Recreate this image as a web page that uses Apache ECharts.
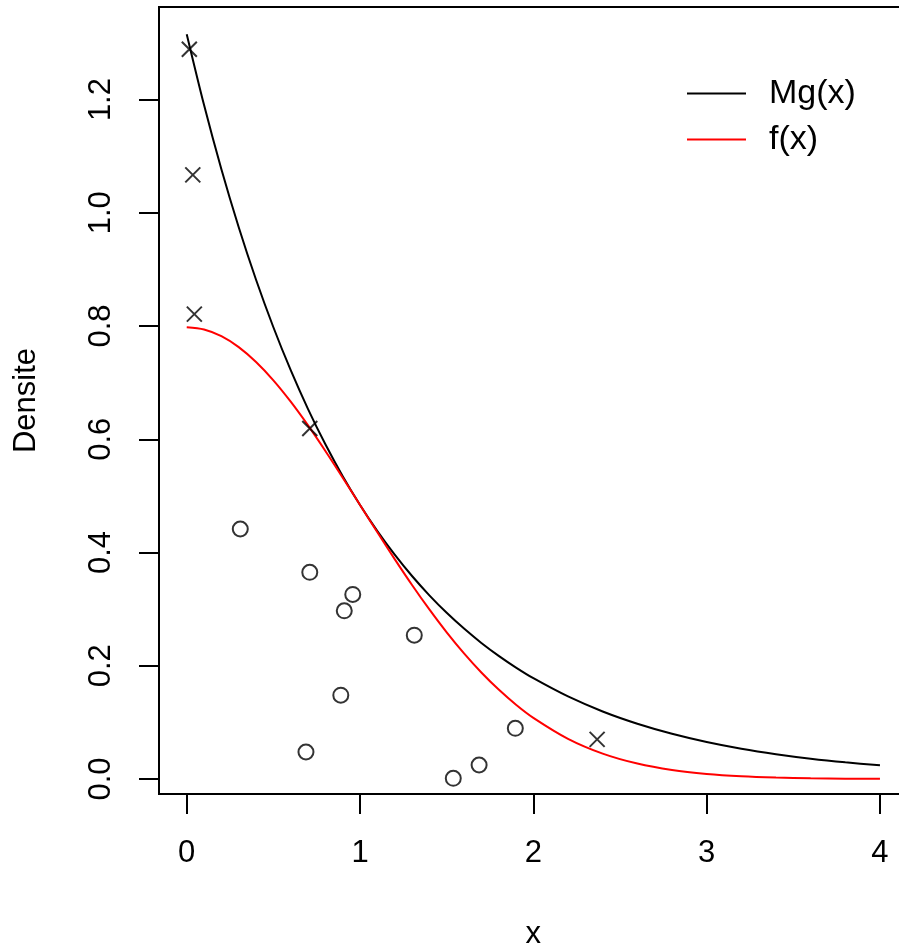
<!DOCTYPE html>
<html>
<head>
<meta charset="utf-8">
<script src="https://cdn.jsdelivr.net/npm/echarts@6/dist/echarts.min.js"></script>
<style>html,body{margin:0;padding:0;background:#fff}#c{width:899px;height:946px}</style>
</head>
<body>
<div id="c"></div>
<script>
// curve sample positions and values
const curveX = [0,0.1,0.2,0.3,0.4,0.5,0.6,0.7,0.8,0.9,1.0,1.1,1.2,1.3,1.4,1.5,1.6,1.7,1.8,1.9,2.0,2.2,2.4,2.6,2.8,3.0,3.2,3.4,3.6,3.8,4.0];
const mgY = [1.3155,1.1903,1.0770,0.9746,0.8818,0.7979,0.7220,0.6533,0.5911,0.5348,0.4839,0.4379,0.3962,0.3585,0.3244,0.2935,0.2656,0.2403,0.2175,0.1968,0.1780,0.1458,0.1193,0.0977,0.0800,0.0655,0.0536,0.0439,0.0359,0.0294,0.0241];
const fY = [0.7979,0.7939,0.7821,0.7628,0.7365,0.7041,0.6664,0.6245,0.5794,0.5322,0.4839,0.4357,0.3884,0.3427,0.2995,0.2590,0.2218,0.1881,0.1579,0.1312,0.1080,0.0709,0.0448,0.0272,0.0158,0.0089,0.0048,0.0025,0.0012,0.0006,0.0003];
// crosses
const rejX = [0.015,0.035,0.044,0.71,2.368];
const rejY = [1.289,1.067,0.821,0.619,0.070];
// circles
const accX = [0.309,0.71,0.958,0.909,1.313,0.889,0.688,1.538,1.687,1.896];
const accY = [0.4415,0.365,0.326,0.297,0.254,0.148,0.0477,0.0012,0.0247,0.0895];
// ticks
const xTicks = [0,1,2,3,4];
const yTicks = [0,0.2,0.4,0.6,0.8,1.0,1.2];
const seriesNames = ['Mg(x)','f(x)'];

const zip = (a,b) => a.map((v,i)=>[v,b[i]]);
const FONT = 'Liberation Sans, Arial, Helvetica, sans-serif';
const FS = 31;
const chart = echarts.init(document.getElementById('c'), null, {renderer:'canvas'});
chart.setOption({
  animation:false,
  backgroundColor:'#fff',
  grid:{left:159, top:7, width:748.7, height:787, show:true, borderColor:'#000', borderWidth:2,
    backgroundColor:'transparent', containLabel:false, outerBoundsMode:'none'},
  xAxis:{type:'value', min:-0.16, max:4.16,
    axisLine:{show:false, onZero:false}, splitLine:{show:false},
    axisTick:{show:true, inside:false, length:20, customValues:xTicks, lineStyle:{color:'#000', width:2}},
    axisLabel:{customValues:xTicks, margin:44, color:'#000', fontSize:FS, fontFamily:FONT, formatter:v=>String(v)},
    name:'x', nameLocation:'middle', nameGap:125, nameTextStyle:{color:'#000', fontSize:FS, fontFamily:FONT}},
  yAxis:{type:'value', min:-0.0265, max:1.3635,
    axisLine:{show:false, onZero:false}, splitLine:{show:false},
    axisTick:{show:true, inside:false, length:20, customValues:yTicks, lineStyle:{color:'#000', width:2}},
    axisLabel:{customValues:yTicks, rotate:90, margin:42, color:'#000', fontSize:FS, fontFamily:FONT, formatter:v=>v.toFixed(1)},
    name:'Densite', nameLocation:'middle', nameGap:117, nameRotate:90, nameTextStyle:{color:'#000', fontSize:FS, fontFamily:FONT}},
  legend:{data:seriesNames, orient:'vertical', left:682, top:71, icon:'rect', itemWidth:59, itemHeight:2, itemGap:11,
    textStyle:{color:'#000', fontSize:34, fontFamily:FONT, lineHeight:35, padding:[0,0,0,18]}},
  series:[
    {name:seriesNames[0], type:'line', data:zip(curveX,mgY), showSymbol:false, smooth:0.3, color:'#000', lineStyle:{color:'#000', width:2}, z:2},
    {name:seriesNames[1], type:'line', data:zip(curveX,fY), showSymbol:false, smooth:0.3, color:'#ff0000', lineStyle:{color:'#ff0000', width:2}, z:3},
    {name:'rej', type:'scatter', data:zip(rejX,rejY), symbol:'path://M0,0L10,10M10,0L0,10', symbolSize:15,
      itemStyle:{color:'none', borderColor:'#000', borderWidth:2}, z:4},
    {name:'acc', type:'scatter', data:zip(accX,accY), symbol:'emptyCircle', symbolSize:15,
      itemStyle:{color:'#000', borderColor:'#000', borderWidth:2}, z:4}
  ]
});
</script>
</body>
</html>
